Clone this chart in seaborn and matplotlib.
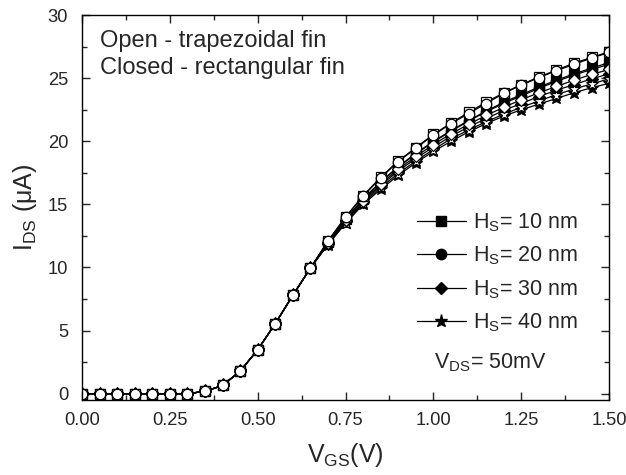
import numpy as np
import pandas as pd
import matplotlib
matplotlib.use("Agg")
import matplotlib.pyplot as plt
from matplotlib.lines import Line2D
from matplotlib.ticker import MultipleLocator
import seaborn as sns

# ---- data ----
vgs = [0.00, 0.05, 0.10, 0.15, 0.20, 0.25, 0.30, 0.35, 0.40, 0.45, 0.50,
       0.55, 0.60, 0.65, 0.70, 0.75, 0.80, 0.85, 0.90, 0.95, 1.00,
       1.05, 1.10, 1.15, 1.20, 1.25, 1.30, 1.35, 1.40, 1.45, 1.50]

# shared sub-threshold part (0.00 .. 0.65 V)
ids_low = [0, 0, 0, 0, 0, 0, 0, 0.18, 0.65, 1.78, 3.48, 5.55, 7.8, 9.95]

# 0.70 .. 1.50 V
trap_10 = [12.1, 14.0, 15.7, 17.15, 18.45, 19.5, 20.55, 21.45, 22.3, 23.1, 23.85, 24.5, 25.1, 25.65, 26.2, 26.65, 27.1]
trap_20 = [12.1, 14.0, 15.65, 17.1, 18.4, 19.45, 20.5, 21.4, 22.2, 23.0, 23.8, 24.45, 25.05, 25.6, 26.1, 26.6, 27.05]
rect_10 = [12.0, 13.85, 15.45, 16.8, 18.0, 19.05, 20.0, 20.85, 21.65, 22.4, 23.1, 23.7, 24.3, 24.85, 25.35, 25.8, 26.25]
rect_20 = [12.0, 13.8, 15.4, 16.75, 17.95, 19.0, 19.95, 20.8, 21.6, 22.35, 23.0, 23.6, 24.2, 24.75, 25.25, 25.7, 26.1]
trap_30 = [11.95, 13.75, 15.3, 16.6, 17.8, 18.8, 19.75, 20.6, 21.35, 22.05, 22.7, 23.3, 23.85, 24.35, 24.85, 25.3, 25.7]
rect_30 = [11.9, 13.65, 15.2, 16.5, 17.65, 18.65, 19.55, 20.4, 21.15, 21.8, 22.45, 23.0, 23.55, 24.05, 24.5, 24.95, 25.35]
trap_40 = [11.85, 13.55, 15.1, 16.35, 17.45, 18.45, 19.35, 20.2, 20.9, 21.55, 22.15, 22.7, 23.2, 23.7, 24.15, 24.55, 24.95]
rect_40 = [11.8, 13.5, 15.0, 16.2, 17.3, 18.3, 19.2, 20.0, 20.75, 21.4, 22.0, 22.5, 22.95, 23.4, 23.85, 24.25, 24.6]

legend_labels = ["10 nm", "20 nm", "30 nm", "40 nm"]

# ---- style ----
sns.set_style("ticks")
plt.rcParams["font.family"] = ["Liberation Sans", "DejaVu Sans"]
plt.rcParams["mathtext.fontset"] = "custom"
plt.rcParams["mathtext.rm"] = "Liberation Sans"
plt.rcParams["mathtext.it"] = "Liberation Sans"
plt.rcParams["mathtext.default"] = "regular"

fig = plt.figure(figsize=(6.26, 4.75), dpi=100)
ax = fig.add_axes([0.131, 0.158, 0.842, 0.810])

series = [
    (rect_10, "s", "black"),
    (rect_20, "o", "black"),
    (rect_30, "D", "black"),
    (rect_40, "*", "black"),
    (trap_40, "*", "white"),
    (trap_30, "D", "white"),
    (trap_10, "s", "white"),
    (trap_20, "o", "white"),
]
msize = {"s": 6.5, "o": 7.5, "D": 6.0, "*": 9.5}
for vals, m, fc in series:
    y = ids_low + vals
    sns.lineplot(x=vgs, y=y, ax=ax, color="black", lw=0.9,
                 marker=m, markersize=msize[m], markerfacecolor=fc,
                 markeredgecolor="black", markeredgewidth=0.9)

ax.set_xlim(0, 1.5)
ax.set_ylim(-0.5, 30)
ax.xaxis.set_major_locator(MultipleLocator(0.25))
ax.xaxis.set_minor_locator(MultipleLocator(0.125))
ax.yaxis.set_major_locator(MultipleLocator(5))
ax.yaxis.set_minor_locator(MultipleLocator(2.5))
ax.xaxis.set_major_formatter(matplotlib.ticker.FormatStrFormatter("%.2f"))
ax.tick_params(which="both", direction="in", top=True, right=True,
               labelsize=13.2, width=1)
ax.tick_params(which="major", length=6)
ax.tick_params(which="minor", length=3.5)
ax.tick_params(axis="x", which="major", pad=9)
ax.tick_params(axis="y", which="major", pad=10)
for s in ax.spines.values():
    s.set_linewidth(1)
    s.set_color("black")

ax.set_xlabel(r"V$_{GS}$(V)", fontsize=18, labelpad=8)
ax.set_ylabel(r"I$_{DS}$ ($\mu$A)", fontsize=18, labelpad=6)

ax.text(0.034, 0.962, "Open - trapezoidal fin\nClosed - rectangular fin",
        transform=ax.transAxes, ha="left", va="top", fontsize=17,
        linespacing=1.3)

handles = [Line2D([], [], color="black", lw=0.9, marker=m, markersize=msize[m],
                  markerfacecolor="black", markeredgecolor="black")
           for m in ["s", "o", "D", "*"]]
labels = [r"H$_S$= " + l for l in legend_labels]
ax.legend(handles, labels, loc="upper left", bbox_to_anchor=(0.635, 0.49),
          frameon=False, fontsize=15.5, handlelength=2.3, handletextpad=0.3,
          labelspacing=0.5, borderpad=0, borderaxespad=0)

ax.text(0.882, 0.097, r"V$_{DS}$= 50mV", transform=ax.transAxes,
        ha="right", va="center", fontsize=15.5)

fig.savefig("out.png", dpi=100)
